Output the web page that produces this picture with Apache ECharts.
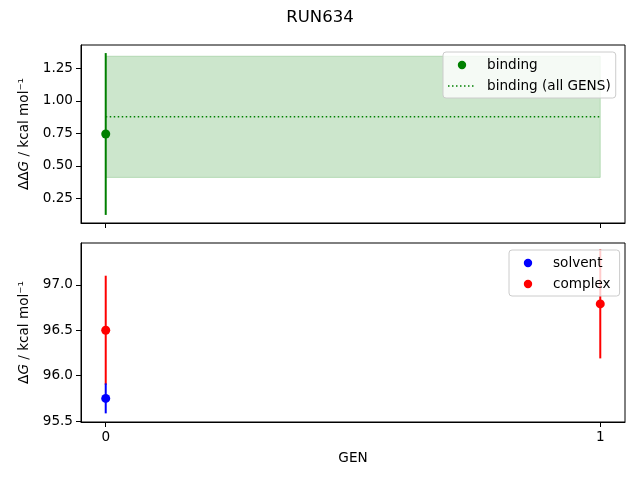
<!DOCTYPE html>
<html>
<head>
<meta charset="utf-8">
<script src="https://cdn.jsdelivr.net/npm/echarts@6/dist/echarts.min.js"></script>
<style>
  html, body { margin: 0; padding: 0; background: #fff; }
  #chart { width: 640px; height: 480px; }
</style>
</head>
<body>
<div id="chart"></div>
<script>
// data
const genTicks = [0, 1]
const bindingGens = [0]
const bindingValues = [0.745]
const bindingErrors = [0.621]
const bindingAllGens = [0, 1]
const bindingAllValue = 0.877
const bindingAllError = 0.465
const solventGens = [0]
const solventValues = [95.75]
const solventErrors = [0.165]
const complexGens = [0, 1]
const complexValues = [96.50, 96.79]
const complexErrors = [0.60, 0.60]
const topTicks = [0.25, 0.5, 0.75, 1.0, 1.25]
const bottomTicks = [95.5, 96.0, 96.5, 97.0]

const FONT = 'DejaVu Sans'
const FS = 13.6
const chart = echarts.init(document.getElementById('chart'), null, { renderer: 'canvas' })

// small circle inside a 28x14 box so the legend marker stays marker-sized
const dotIcon = 'path://M0,0M28,14M9.8,7a4.2,4.2 0 1,0 8.4,0a4.2,4.2 0 1,0 -8.4,0z'
let dashIcon = 'path://M0,0M28,14'
for (let x = 0; x < 27; x += 4) dashIcon += 'M' + x + ',6.25h1.5v1.5h-1.5z'

const rows = (xs, ys, es) => xs.map((x, i) => [x, ys[i], es[i]])

function errorBar(color) {
    return function (params, api) {
        const x = api.value(0), y = api.value(1), e = api.value(2)
        const p1 = api.coord([x, y - e])
        const p2 = api.coord([x, y + e])
        return {
            type: 'line',
            shape: { x1: p1[0], y1: p1[1], x2: p2[0], y2: p2[1] },
            style: { stroke: color, lineWidth: 2 }
        }
    }
}

const axisCommon = {
    axisLine: { show: true, onZero: false, lineStyle: { color: '#000', width: 1 } },
    axisTick: { show: true, length: 5, lineStyle: { color: '#000' } },
    splitLine: { show: false },
    axisLabel: { color: '#000', fontFamily: FONT, fontSize: FS }
}

const legendCommon = {
    orient: 'vertical',
    padding: [6, 5, 5, 5],
    itemGap: 7,
    itemWidth: 28,
    itemHeight: 14,
    backgroundColor: 'rgba(255,255,255,0.8)',
    borderColor: '#cccccc',
    borderWidth: 1,
    borderRadius: 3,
    textStyle: { fontFamily: FONT, fontSize: FS, color: '#000', padding: [0, 0, 0, 6] }
}

const yName = (pre) => ({
    name: '{n|' + pre + '}{i|G}{n| / kcal mol⁻¹}',
    nameLocation: 'middle',
    nameRotate: 90,
    nameGap: 45,
    nameTextStyle: {
        rich: {
            n: { fontFamily: FONT, fontSize: FS, color: '#000' },
            i: { fontFamily: FONT, fontSize: FS, color: '#000', fontStyle: 'italic' }
        }
    }
})

chart.setOption({
    animation: false,
    backgroundColor: '#fff',
    title: {
        text: 'RUN634',
        left: 'center',
        top: 4,
        textStyle: { fontFamily: FONT, fontSize: 16.5, fontWeight: 'normal', color: '#000' }
    },
    legend: [
        Object.assign({}, legendCommon, {
            left: 443, top: 52,
            data: [
                { name: 'binding', icon: dotIcon },
                { name: 'binding (all GENS)', icon: dashIcon }
            ]
        }),
        Object.assign({}, legendCommon, {
            left: 509, top: 250,
            padding: [6, 9, 5, 5],
            data: [
                { name: 'solvent', icon: dotIcon },
                { name: 'complex', icon: dotIcon }
            ]
        })
    ],
    grid: [
        { left: 81, right: 15, top: 45, height: 178, show: true, borderColor: '#000', borderWidth: 1 },
        { left: 81, right: 15, top: 243, height: 179, show: true, borderColor: '#000', borderWidth: 1 }
    ],
    xAxis: [
        Object.assign({}, axisCommon, {
            type: 'value', gridIndex: 0, min: -0.05, max: 1.05,
            axisTick: Object.assign({}, axisCommon.axisTick, { customValues: genTicks }),
            axisLabel: { show: false }
        }),
        Object.assign({}, axisCommon, {
            type: 'value', gridIndex: 1, min: -0.05, max: 1.05,
            axisTick: Object.assign({}, axisCommon.axisTick, { customValues: genTicks }),
            axisLabel: Object.assign({}, axisCommon.axisLabel, { customValues: genTicks, margin: 8 }),
            name: 'GEN',
            nameLocation: 'middle',
            nameGap: 29,
            nameTextStyle: { fontFamily: FONT, fontSize: FS, color: '#000' }
        })
    ],
    yAxis: [
        Object.assign({}, axisCommon, yName('ΔΔ'), {
            type: 'value', gridIndex: 0, min: 0.062, max: 1.428,
            axisTick: Object.assign({}, axisCommon.axisTick, { customValues: topTicks }),
            axisLabel: Object.assign({}, axisCommon.axisLabel, {
                customValues: topTicks, formatter: v => v.toFixed(2)
            })
        }),
        Object.assign({}, axisCommon, yName('Δ'), {
            type: 'value', gridIndex: 1, min: 95.49, max: 97.46,
            axisTick: Object.assign({}, axisCommon.axisTick, { customValues: bottomTicks }),
            axisLabel: Object.assign({}, axisCommon.axisLabel, {
                customValues: bottomTicks, formatter: v => v.toFixed(1)
            })
        })
    ],
    series: [
        // shaded band for all gens
        {
            type: 'custom', name: 'band', xAxisIndex: 0, yAxisIndex: 0, z: 1,
            data: [[bindingAllGens[0], bindingAllGens[1], bindingAllValue - bindingAllError, bindingAllValue + bindingAllError]],
            renderItem: function (params, api) {
                const a = api.coord([api.value(0), api.value(3)])
                const b = api.coord([api.value(1), api.value(2)])
                return {
                    type: 'rect',
                    shape: { x: a[0], y: a[1], width: b[0] - a[0], height: b[1] - a[1] },
                    style: { fill: 'rgba(0,128,0,0.2)', stroke: 'rgba(0,128,0,0.2)', lineWidth: 1 }
                }
            }
        },
        {
            type: 'line', name: 'binding (all GENS)', xAxisIndex: 0, yAxisIndex: 0, z: 2,
            data: bindingAllGens.map(g => [g, bindingAllValue]),
            symbol: 'none', color: '#008000',
            lineStyle: { color: '#008000', width: 1.5, type: [1.5, 2.5] }
        },
        {
            type: 'custom', name: 'bindingErr', xAxisIndex: 0, yAxisIndex: 0, z: 3,
            data: rows(bindingGens, bindingValues, bindingErrors),
            renderItem: errorBar('#008000')
        },
        {
            type: 'scatter', name: 'binding', xAxisIndex: 0, yAxisIndex: 0, z: 4,
            data: bindingGens.map((g, i) => [g, bindingValues[i]]),
            symbolSize: 9, color: '#008000', itemStyle: { opacity: 1 }
        },
        {
            type: 'custom', name: 'complexErr', xAxisIndex: 1, yAxisIndex: 1, z: 3,
            data: rows(complexGens, complexValues, complexErrors),
            renderItem: errorBar('#ff0000')
        },
        {
            type: 'custom', name: 'solventErr', xAxisIndex: 1, yAxisIndex: 1, z: 3,
            data: rows(solventGens, solventValues, solventErrors),
            renderItem: errorBar('#0000ff')
        },
        {
            type: 'scatter', name: 'solvent', xAxisIndex: 1, yAxisIndex: 1, z: 4,
            data: solventGens.map((g, i) => [g, solventValues[i]]),
            symbolSize: 9, color: '#0000ff', itemStyle: { opacity: 1 }
        },
        {
            type: 'scatter', name: 'complex', xAxisIndex: 1, yAxisIndex: 1, z: 4,
            data: complexGens.map((g, i) => [g, complexValues[i]]),
            symbolSize: 9, color: '#ff0000', itemStyle: { opacity: 1 }
        }
    ]
})
</script>
</body>
</html>
